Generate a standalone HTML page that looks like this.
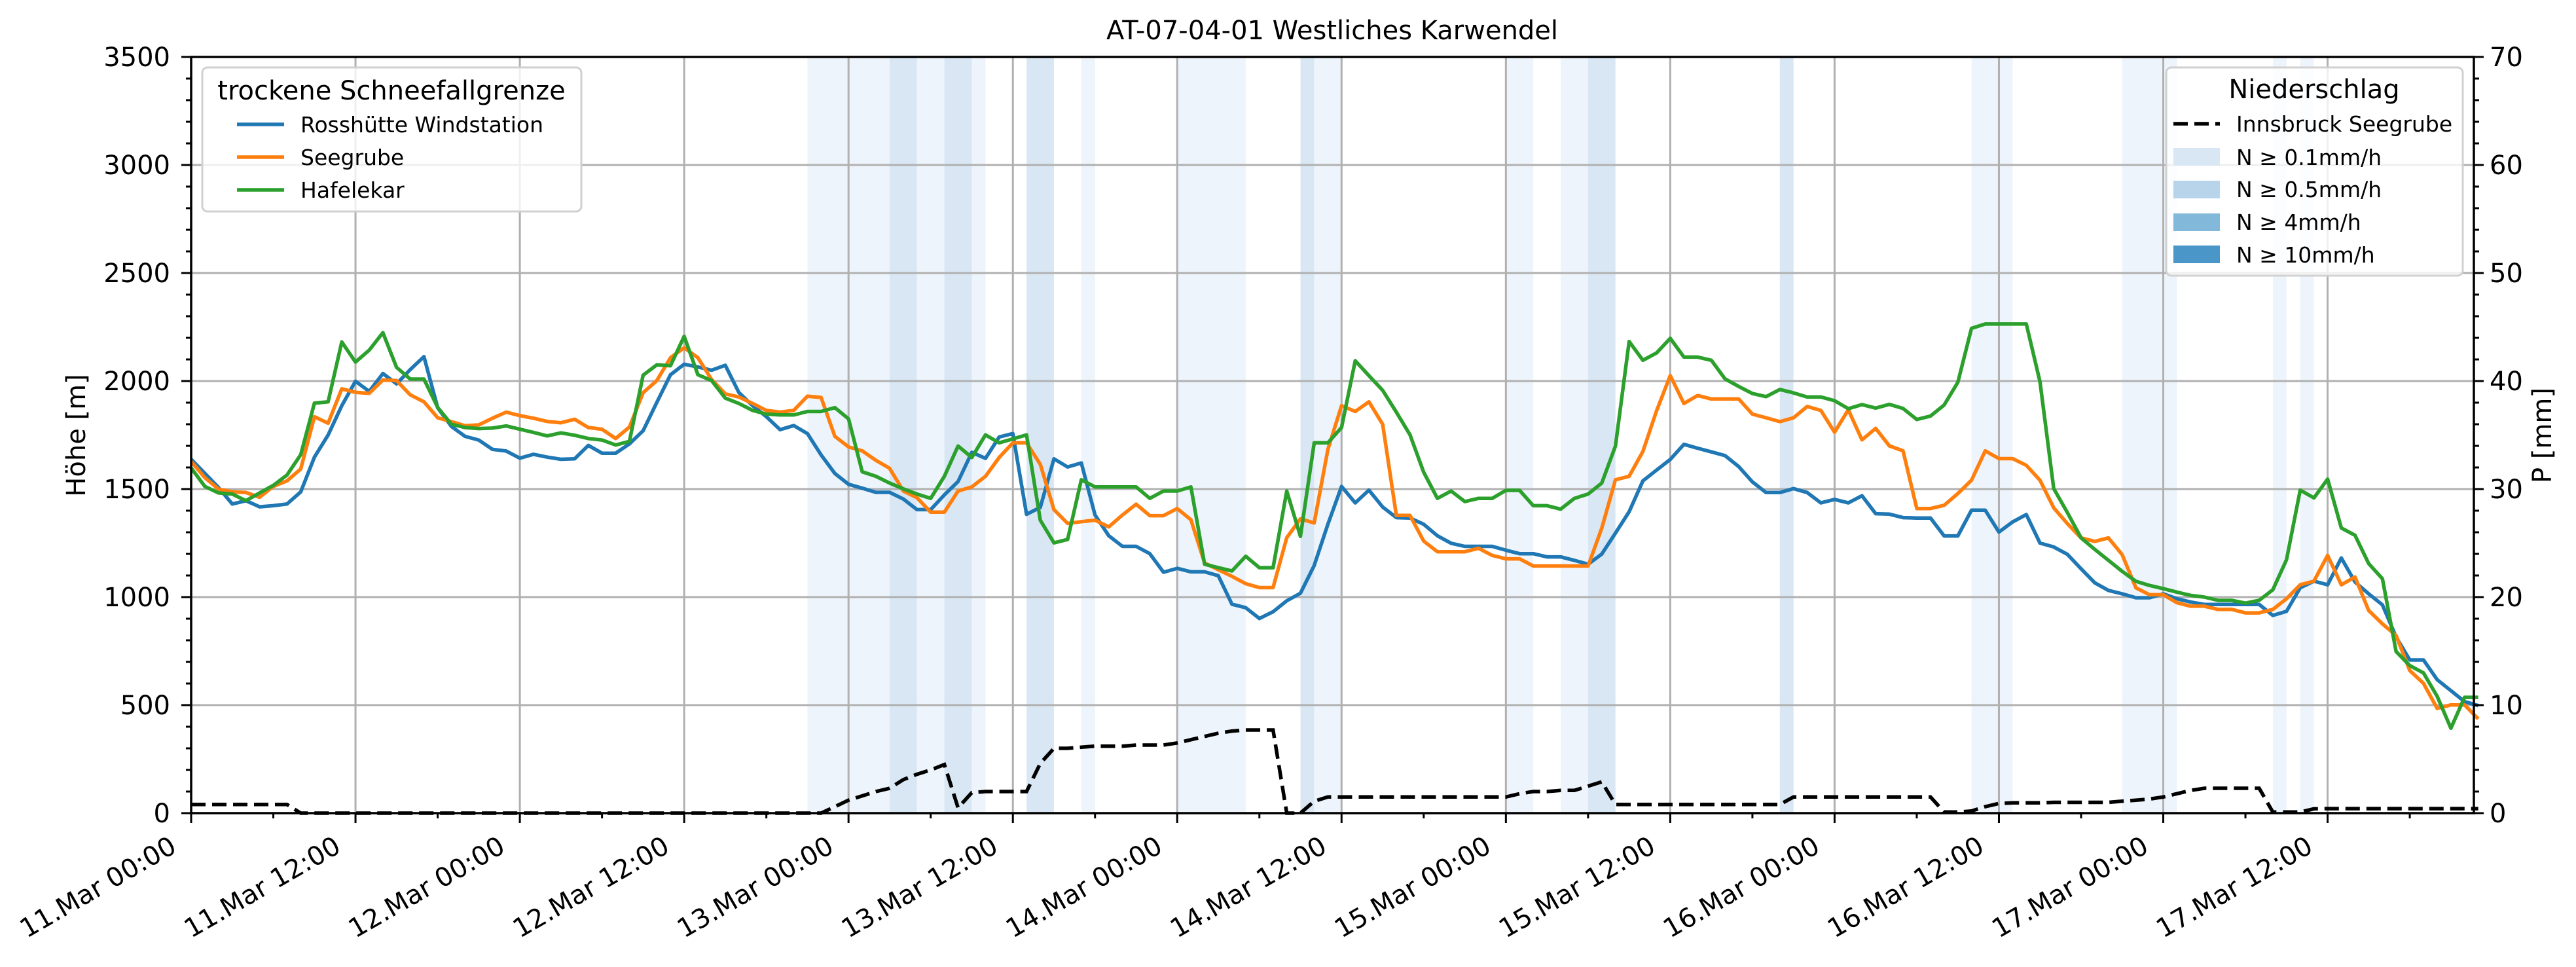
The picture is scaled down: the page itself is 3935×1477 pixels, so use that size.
<!DOCTYPE html>
<html><head><meta charset="utf-8"><title>AT-07-04-01 Westliches Karwendel</title>
<style>html,body{margin:0;padding:0;background:#fff;}svg{display:block;font-family:"DejaVu Sans","Liberation Sans",sans-serif;}</style>
</head><body>
<svg id="chart" xmlns="http://www.w3.org/2000/svg" width="3935" height="1477" viewBox="0 0 3935 1477">
<rect width="3935" height="1477" fill="#fff"/>
<g id="bands"></g>
<g id="grid"></g>
<g id="series"></g>
<g id="axes"></g>
<text x="2035" y="60" font-size="40" text-anchor="middle">AT-07-04-01 Westliches Karwendel</text>
<text transform="translate(130,665) rotate(-90)" font-size="40" text-anchor="middle">Höhe [m]</text>
<text transform="translate(3897,665) rotate(-90)" font-size="40" text-anchor="middle">P [mm]</text>
<g>
<rect x="309" y="103" width="579" height="220" rx="8" fill="#fff" fill-opacity="0.8" stroke="#d0d0d0" stroke-width="3"/>
<text x="598" y="152" font-size="40" text-anchor="middle">trockene Schneefallgrenze</text>
<line x1="362" y1="190" x2="434" y2="190" stroke="#1f77b4" stroke-width="5.5"/>
<text x="459" y="202" font-size="33">Rosshütte Windstation</text>
<line x1="362" y1="240" x2="434" y2="240" stroke="#ff7f0e" stroke-width="5.5"/>
<text x="459" y="252" font-size="33">Seegrube</text>
<line x1="362" y1="290" x2="434" y2="290" stroke="#2ca02c" stroke-width="5.5"/>
<text x="459" y="302" font-size="33">Hafelekar</text>
</g>
<g>
<rect x="3309" y="103" width="453" height="318" rx="8" fill="#fff" fill-opacity="0.8" stroke="#d0d0d0" stroke-width="3"/>
<text x="3535" y="150" font-size="40" text-anchor="middle">Niederschlag</text>
<line x1="3320" y1="189" x2="3391" y2="189" stroke="#000" stroke-width="5.5" stroke-dasharray="22,10"/>
<text x="3416" y="201" font-size="33">Innsbruck Seegrube</text>
<rect x="3320" y="226" width="71" height="27" fill="#d9e7f4"/>
<text x="3416" y="252" font-size="33">N ≥ 0.1mm/h</text>
<rect x="3320" y="276" width="71" height="27" fill="#b7d4ea"/>
<text x="3416" y="301" font-size="33">N ≥ 0.5mm/h</text>
<rect x="3320" y="326" width="71" height="27" fill="#82b8d9"/>
<text x="3416" y="351" font-size="33">N ≥ 4mm/h</text>
<rect x="3320" y="375" width="71" height="27" fill="#4a96c9"/>
<text x="3416" y="401" font-size="33">N ≥ 10mm/h</text>
</g>
</svg>
<script>
const hours = Array.from({length:168}, (_, i) => i);
const rosshuette = [1638,1573,1507,1431,1446,1418,1423,1431,1487,1648,1750,1886,1999,1952,2035,1987,2053,2113,1876,1790,1744,1727,1684,1676,1643,1661,1648,1638,1640,1702,1666,1666,1709,1770,1901,2029,2078,2065,2050,2073,1946,1886,1835,1775,1794,1757,1658,1572,1522,1504,1485,1485,1454,1405,1405,1473,1535,1670,1642,1741,1757,1383,1415,1640,1602,1621,1380,1284,1235,1235,1201,1115,1133,1117,1117,1099,967,951,901,932,983,1018,1146,1337,1512,1436,1495,1417,1368,1366,1337,1284,1249,1235,1235,1235,1217,1201,1201,1186,1186,1170,1152,1199,1296,1395,1538,1588,1637,1707,1689,1672,1655,1604,1533,1484,1484,1502,1484,1436,1452,1436,1469,1386,1384,1368,1366,1366,1283,1283,1402,1402,1301,1348,1382,1250,1232,1198,1131,1066,1031,1015,997,997,1015,992,977,966,966,966,966,966,915,934,1043,1074,1057,1181,1070,1015,964,815,709,709,618,567,516,498];
const seegrube = [1628,1553,1500,1487,1484,1462,1512,1538,1593,1835,1805,1964,1948,1943,2005,2002,1936,1904,1830,1812,1793,1797,1828,1856,1840,1828,1813,1807,1823,1785,1777,1734,1787,1946,2002,2108,2154,2108,2007,1941,1926,1896,1864,1856,1864,1930,1924,1744,1695,1677,1633,1596,1491,1460,1393,1393,1491,1510,1559,1646,1714,1714,1615,1405,1341,1349,1356,1325,1380,1430,1377,1377,1410,1358,1158,1127,1096,1062,1044,1044,1275,1362,1343,1683,1886,1859,1904,1800,1378,1378,1259,1210,1210,1210,1226,1193,1177,1177,1144,1144,1144,1144,1144,1319,1543,1559,1674,1862,2025,1896,1933,1917,1917,1917,1847,1830,1812,1830,1882,1864,1763,1867,1728,1781,1700,1677,1410,1410,1425,1479,1541,1677,1641,1641,1610,1541,1413,1340,1274,1258,1274,1196,1043,1011,1011,974,958,958,943,943,927,927,943,992,1057,1074,1193,1057,1093,938,876,822,660,601,485,501,501,436];
const hafelekar = [1598,1512,1482,1477,1446,1482,1517,1565,1659,1898,1904,2181,2088,2143,2224,2063,2009,2009,1878,1800,1785,1780,1782,1792,1777,1762,1746,1760,1749,1734,1727,1704,1721,2027,2075,2071,2207,2029,2002,1921,1896,1864,1847,1843,1843,1859,1859,1877,1825,1580,1559,1528,1501,1477,1457,1559,1699,1646,1751,1714,1732,1751,1356,1251,1267,1543,1510,1510,1510,1510,1457,1491,1491,1510,1152,1136,1121,1189,1136,1136,1491,1281,1714,1714,1785,2094,2025,1957,1856,1751,1578,1457,1491,1442,1457,1457,1494,1494,1423,1423,1407,1457,1477,1528,1699,2183,2096,2130,2198,2111,2111,2096,2010,1975,1942,1928,1961,1945,1926,1926,1909,1872,1891,1875,1892,1873,1822,1838,1889,1994,2244,2264,2264,2264,2264,1997,1502,1391,1274,1221,1170,1119,1073,1054,1039,1023,1008,1000,985,985,972,985,1034,1173,1495,1459,1546,1320,1286,1155,1085,748,683,649,541,393,536,536];
const precip = [0.8,0.8,0.8,0.8,0.8,0.8,0.8,0.8,0,0,0,0,0,0,0,0,0,0,0,0,0,0,0,0,0,0,0,0,0,0,0,0,0,0,0,0,0,0,0,0,0,0,0,0,0,0,0,0.6,1.2,1.6,2.0,2.3,3.1,3.6,4.0,4.5,0.5,1.9,2.0,2.0,2.0,2.0,4.6,6.0,6.0,6.1,6.2,6.2,6.2,6.3,6.3,6.3,6.5,6.8,7.1,7.4,7.6,7.7,7.7,7.7,0,0,1.1,1.5,1.5,1.5,1.5,1.5,1.5,1.5,1.5,1.5,1.5,1.5,1.5,1.5,1.5,1.8,2.0,2.0,2.1,2.1,2.5,2.9,0.8,0.8,0.8,0.8,0.8,0.8,0.8,0.8,0.8,0.8,0.8,0.8,0.8,1.5,1.5,1.5,1.5,1.5,1.5,1.5,1.5,1.5,1.5,1.5,0.1,0.1,0.2,0.6,0.9,0.95,0.95,0.95,1.0,1.0,1.0,1.0,1.0,1.1,1.2,1.3,1.5,1.8,2.1,2.3,2.3,2.3,2.3,2.3,0.1,0.1,0.1,0.4,0.42,0.42,0.42,0.42,0.42,0.42,0.42,0.42,0.42,0.42,0.42,0.42];
const bandStarts = [45,51,53,55,57,61,65,72,81,82,96,100,102,116,130,141,152,154];
const bandEnds   = [51,53,55,57,58,63,66,77,82,84,98,102,104,117,133,145,153,155];
const bandLevels = [0,1,0,1,0,1,0,0,1,0,0,0,1,1,0,0,0,0];
const xTickLabels = ["11.Mar 00:00","11.Mar 12:00","12.Mar 00:00","12.Mar 12:00","13.Mar 00:00","13.Mar 12:00","14.Mar 00:00","14.Mar 12:00","15.Mar 00:00","15.Mar 12:00","16.Mar 00:00","16.Mar 12:00","17.Mar 00:00","17.Mar 12:00"];
const yTicks = [0,500,1000,1500,2000,2500,3000,3500];
const y2Ticks = [0,10,20,30,40,50,60,70];

const NS = "http://www.w3.org/2000/svg";
const L = 292, R = 3779, T = 87, B = 1242;
const HMAX = 166.68;
const xs = h => L + h / HMAX * (R - L);
const ys = v => B - v / 3500 * (B - T);
const ys2 = v => B - v / 70 * (B - T);
function mk(tag, parent, attrs) {
  const e = document.createElementNS(NS, tag);
  for (const k in attrs) e.setAttribute(k, attrs[k]);
  parent.appendChild(e);
  return e;
}
const gBands = document.getElementById('bands');
const gGrid = document.getElementById('grid');
const gSeries = document.getElementById('series');
const gAxes = document.getElementById('axes');
const bandColors = ['#eef4fb', '#d9e7f4'];
bandStarts.forEach((s, i) => {
  const r = mk('rect', gBands, {x: xs(s), y: T, width: xs(bandEnds[i]) - xs(s), height: B - T, fill: bandColors[bandLevels[i]]});
  
  
});
xTickLabels.forEach((lab, i) => {
  const x = xs(i * 12);
  const g = mk('line', gGrid, {x1: x, x2: x, y1: T, y2: B, stroke: '#b0b0b0', 'stroke-width': 3});
  
  
});
yTicks.forEach(v => {
  const g = mk('line', gGrid, {x1: L, x2: R, y1: ys(v), y2: ys(v), stroke: '#b0b0b0', 'stroke-width': 3});
  
  
});
function path(vals, scale) {
  return vals.map((v, i) => (i ? 'L' : 'M') + xs(hours[i]).toFixed(1) + ',' + scale(v).toFixed(1)).join('');
}
const pl = mk('path', gSeries, {d: path(precip, ys2), fill: 'none', stroke: '#000', 'stroke-width': 5.5, 'stroke-dasharray': '22,10'});


const series = [[rosshuette, '#1f77b4', 'rosshuette-line'], [seegrube, '#ff7f0e', 'seegrube-line'], [hafelekar, '#2ca02c', 'hafelekar-line']];
series.forEach(s => {
  const p = mk('path', gSeries, {d: path(s[0], ys), fill: 'none', stroke: s[1], 'stroke-width': 5.5, 'stroke-linejoin': 'round'});
  
  
});
const fr = mk('rect', gAxes, {x: L, y: T, width: R - L, height: B - T, fill: 'none', stroke: '#000', 'stroke-width': 3.5});


for (let h = 0; h <= HMAX; h += 6) {
  const major = h % 12 === 0;
  const t = mk('line', gAxes, {x1: xs(h), x2: xs(h), y1: B, y2: B + (major ? 15 : 8), stroke: '#000', 'stroke-width': 3});
  
  
}
xTickLabels.forEach((lab, i) => {
  const x = xs(i * 12);
  const t = mk('text', gAxes, {transform: `translate(${x - 20},${1300}) rotate(-30)`, 'font-size': 40, 'text-anchor': 'end'});
  t.textContent = lab;
  
  
});
for (let v = 0; v <= 3500; v += 100) {
  const major = v % 500 === 0;
  const t = mk('line', gAxes, {x1: L - (major ? 15 : 8), x2: L, y1: ys(v), y2: ys(v), stroke: '#000', 'stroke-width': 3});
  
  
}
yTicks.forEach(v => {
  const t = mk('text', gAxes, {x: 260, y: ys(v) + 14, 'font-size': 40, 'text-anchor': 'end'});
  t.textContent = v;
  
  
});
for (let v = 0; v <= 70; v += 2) {
  const major = v % 10 === 0;
  const t = mk('line', gAxes, {x1: R, x2: R + (major ? 15 : 8), y1: ys2(v), y2: ys2(v), stroke: '#000', 'stroke-width': 3});
  
  
}
y2Ticks.forEach(v => {
  const t = mk('text', gAxes, {x: 3803, y: ys2(v) + 14, 'font-size': 40, 'text-anchor': 'start'});
  t.textContent = v;
  
  
});
</script>
</body></html>
